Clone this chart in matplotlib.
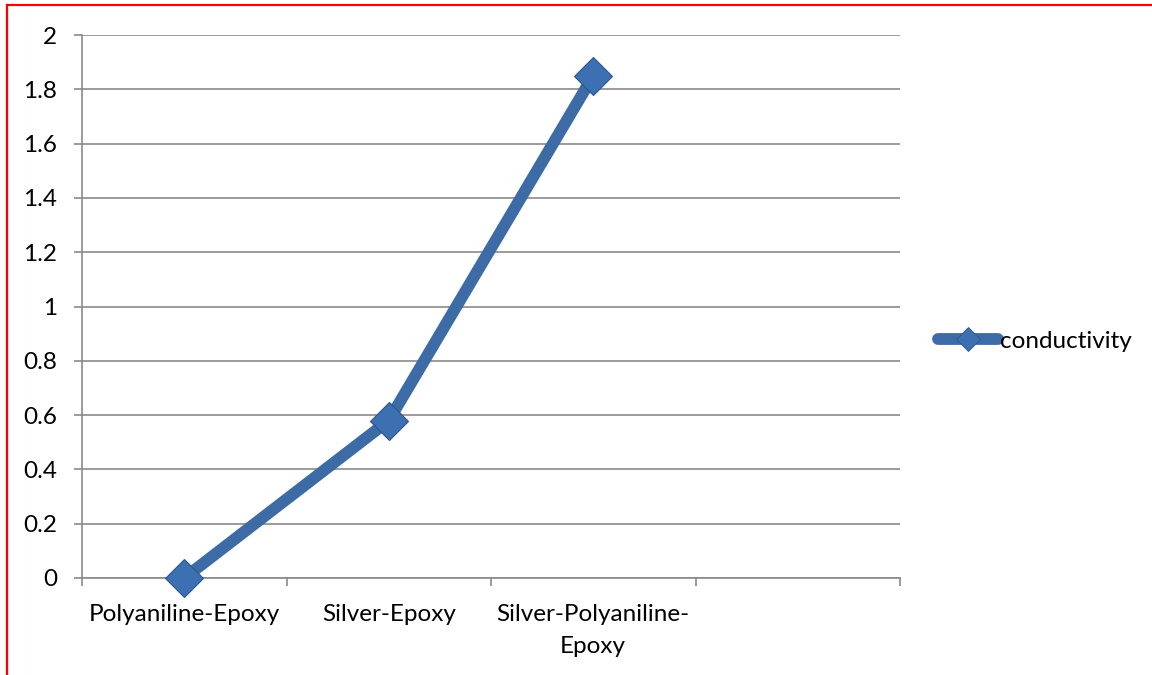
import numpy as np
import matplotlib
matplotlib.use("Agg")
import matplotlib.pyplot as plt
from matplotlib.lines import Line2D

# Data
categories = ["Polyaniline-Epoxy", "Silver-Epoxy", "Silver-Polyaniline-\nEpoxy", ""]
conductivity = [0.0, 0.58, 1.85, np.nan]
y_ticks = [0, 0.2, 0.4, 0.6, 0.8, 1, 1.2, 1.4, 1.6, 1.8, 2]
y_labels = ["0", "0.2", "0.4", "0.6", "0.8", "1", "1.2", "1.4", "1.6", "1.8", "2"]

plt.rcParams["font.family"] = ["Lato", "DejaVu Sans"]

W, H, DPI = 1152, 675, 100
fig = plt.figure(figsize=(W / DPI, H / DPI), dpi=DPI)
fig.patch.set_facecolor("white")

# plot area in pixels
left, right, top, bottom = 82, 900, 35, 578
ax = fig.add_axes([left / W, 1 - bottom / H, (right - left) / W, (bottom - top) / H])

line_color = "#3D6BA6"
marker_face = "#3C70B3"
marker_edge = "#2D5789"
grid_color = "#8A8A8A"
fs = 17.5

x = np.arange(len(categories))
ax.plot(x, conductivity, color=line_color, linewidth=8.5, solid_capstyle="round",
        solid_joinstyle="round", zorder=3)
ax.plot(x, conductivity, linestyle="none", marker="D", markersize=19.5,
        markerfacecolor=marker_face, markeredgecolor=marker_edge, markeredgewidth=0.8,
        zorder=4, clip_on=False)

ax.set_xlim(-0.5, len(categories) - 0.5)
ax.set_ylim(0, 2)

# category boundaries as tick marks
ax.set_xticks(np.arange(len(categories) + 1) - 0.5)
ax.set_xticklabels([])
ax.set_xticks(x, minor=True)
ax.set_xticklabels(categories, minor=True, fontsize=fs, linespacing=1.6)
ax.tick_params(axis="x", which="major", direction="out", length=6, width=1.2,
               color=grid_color)
ax.tick_params(axis="x", which="minor", length=0, pad=19, labelcolor="black")

ax.set_yticks(y_ticks)
ax.set_yticklabels(y_labels, fontsize=fs)
ax.tick_params(axis="y", direction="out", length=6, width=1.2, color=grid_color,
               pad=12, labelcolor="black")

ax.yaxis.grid(True, color=grid_color, linewidth=1.2)
ax.set_axisbelow(True)

for side in ("top", "right"):
    ax.spines[side].set_visible(False)
for side in ("left", "bottom"):
    ax.spines[side].set_color(grid_color)
    ax.spines[side].set_linewidth(1.2)

handle = Line2D([], [], color=line_color, linewidth=8.5, solid_capstyle="round",
                marker="D", markersize=12, markerfacecolor=marker_face,
                markeredgecolor=marker_edge, markeredgewidth=0.6)
leg = ax.legend([handle], ["conductivity"], loc="center left",
                bbox_to_anchor=(1.046, (bottom - 341) / (bottom - top)),
                frameon=False, fontsize=fs, handlelength=2.5, handletextpad=0.05,
                borderaxespad=0, borderpad=0)

# red frame along the top and left edges
fig.add_artist(Line2D([6.5 / W, 6.5 / W], [0, 1 - 4.5 / H], color="#FF0000",
                      linewidth=1.6, transform=fig.transFigure))
fig.add_artist(Line2D([6.5 / W, 1], [1 - 4.5 / H, 1 - 4.5 / H], color="#FF0000",
                      linewidth=1.6, transform=fig.transFigure))

fig.savefig("out.png", dpi=DPI, facecolor="white")
